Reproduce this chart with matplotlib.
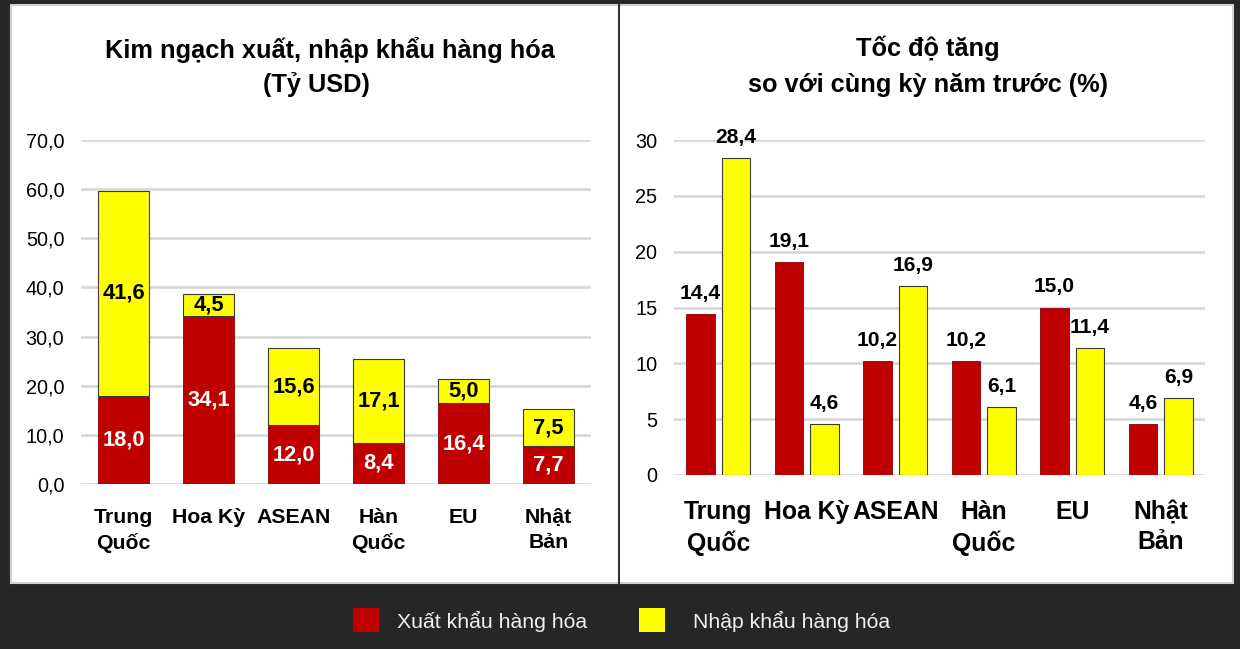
import matplotlib
matplotlib.use("Agg")
import matplotlib.pyplot as plt
from matplotlib import font_manager
from matplotlib.patches import Rectangle
import numpy as np

# ---- data ----
categories = ["Trung\nQuốc", "Hoa Kỳ", "ASEAN", "Hàn\nQuốc", "EU", "Nhật\nBản"]
export_value = [18.0, 34.1, 12.0, 8.4, 16.4, 7.7]
import_value = [41.6, 4.5, 15.6, 17.1, 5.0, 7.5]
export_growth = [14.4, 19.1, 10.2, 10.2, 15.0, 4.6]
import_growth = [28.4, 4.6, 16.9, 6.1, 11.4, 6.9]
left_ticks = [0, 10, 20, 30, 40, 50, 60, 70]
right_ticks = [0, 5, 10, 15, 20, 25, 30]
legend_labels = ["Xuất khẩu hàng hóa", "Nhập khẩu hàng hóa"]
title_left = ["Kim ngạch xuất, nhập khẩu hàng hóa", "(Tỷ USD)"]
title_right = ["Tốc độ tăng", "so với cùng kỳ năm trước (%)"]

RED = "#C00000"
YEL = "#FFFF00"
BG = "#262626"

names = {f.name for f in font_manager.fontManager.ttflist}
NARROW = "Liberation Sans Narrow" in names
FAM = ["Liberation Sans Narrow", "DejaVu Sans"] if NARROW else ["Liberation Sans", "DejaVu Sans"]
k = 1.0 if NARROW else 0.85
plt.rcParams['font.family'] = FAM

W, H = 1240, 649
fig = plt.figure(figsize=(W / 100, H / 100), dpi=100, facecolor=BG)

def fx(px):
    return px / W

def fy(py):
    return 1 - py / H

# white panel
fig.patches.append(Rectangle((fx(11), fy(583)), fx(1233 - 11), (583 - 5) / H,
                             transform=fig.transFigure, facecolor="white",
                             edgecolor="#cfcfcf", linewidth=1.5, zorder=-10))
fig.add_artist(plt.Line2D([fx(619), fx(619)], [fy(583), fy(5)], transform=fig.transFigure,
                          color="#333333", linewidth=1.5, zorder=-5))

# ---- left chart ----
axL = fig.add_axes([fx(81), fy(484), fx(591 - 81), (484 - 140) / H])
axL.set_zorder(5)
x = np.arange(len(categories))
bw = 0.6
axL.bar(x, export_value, bw, color=RED, edgecolor="#8a0000", linewidth=0.6, zorder=3)
axL.bar(x, import_value, bw, bottom=export_value, color=YEL, edgecolor="#3a3a3a",
        linewidth=0.8, zorder=3)
for i in range(len(categories)):
    axL.text(x[i], export_value[i] / 2, f"{export_value[i]:.1f}".replace(".", ","),
             ha="center", va="center", color="white", fontsize=18.5 * k, fontweight="bold", zorder=4)
    axL.text(x[i], export_value[i] + import_value[i] / 2, f"{import_value[i]:.1f}".replace(".", ","),
             ha="center", va="center", color="black", fontsize=18.5 * k, fontweight="bold", zorder=4)
axL.set_xlim(-0.5, len(categories) - 0.5)
axL.set_ylim(0, 70)
axL.set_yticks(left_ticks)
axL.set_yticklabels([f"{t:.1f}".replace(".", ",") for t in left_ticks], fontsize=16.8 * k)
axL.set_xticks(x)
axL.set_xticklabels(categories, fontsize=18 * k, fontweight="bold", linespacing=1.4)
axL.tick_params(axis="both", length=0, colors="black")
axL.tick_params(axis="x", pad=17)
axL.tick_params(axis="y", pad=12)
axL.grid(axis="y", color="#d9d9d9", linewidth=2, zorder=0)
for s in axL.spines.values():
    s.set_visible(False)
axL.set_facecolor("none")

# ---- right chart ----
axR = fig.add_axes([fx(674), fy(475), fx(1205 - 674), (475 - 140) / H])
axR.set_zorder(5)
bw2 = 0.32
off = 0.2
axR.bar(x - off, export_growth, bw2, color=RED, edgecolor="#8a0000", linewidth=0.6, zorder=3)
axR.bar(x + off, import_growth, bw2, color=YEL, edgecolor="#3a3a3a", linewidth=0.8, zorder=3)
for i in range(len(categories)):
    axR.annotate(f"{export_growth[i]:.1f}".replace(".", ","), (x[i] - off, export_growth[i]),
                 xytext=(0, 8), textcoords="offset points", ha="center", va="bottom",
                 fontsize=17.8 * k, fontweight="bold", color="black")
    axR.annotate(f"{import_growth[i]:.1f}".replace(".", ","), (x[i] + off, import_growth[i]),
                 xytext=(0, 8), textcoords="offset points", ha="center", va="bottom",
                 fontsize=17.8 * k, fontweight="bold", color="black")
axR.set_xlim(-0.5, len(categories) - 0.5)
axR.set_ylim(0, 30)
axR.set_yticks(right_ticks)
axR.set_yticklabels([str(t) for t in right_ticks], fontsize=16.8 * k)
axR.set_xticks(x)
axR.set_xticklabels(categories, fontsize=21 * k, fontweight="bold", linespacing=1.3)
axR.tick_params(axis="both", length=0, colors="black")
axR.tick_params(axis="x", pad=18)
axR.tick_params(axis="y", pad=12)
axR.grid(axis="y", color="#d9d9d9", linewidth=2, zorder=0)
for s in axR.spines.values():
    s.set_visible(False)
axR.set_facecolor("none")

# ---- titles ----
TS = 18.3 if not NARROW else 20
fig.text(fx(330), fy(50), title_left[0], ha="center", va="center", fontsize=TS,
         fontweight="bold", color="black")
fig.text(fx(316), fy(85), title_left[1], ha="center", va="center", fontsize=TS,
         fontweight="bold", color="black")
fig.text(fx(928), fy(48), title_right[0], ha="center", va="center", fontsize=TS,
         fontweight="bold", color="black")
fig.text(fx(928), fy(85), title_right[1], ha="center", va="center", fontsize=TS,
         fontweight="bold", color="black")

# ---- legend ----
LS = 15.3 if not NARROW else 17
fig.patches.append(Rectangle((fx(353), fy(632)), fx(26), 24 / H, transform=fig.transFigure,
                             facecolor=RED, edgecolor="none"))
fig.patches.append(Rectangle((fx(639), fy(632)), fx(26), 24 / H, transform=fig.transFigure,
                             facecolor=YEL, edgecolor="none"))
fig.text(fx(397), fy(621), legend_labels[0], ha="left", va="center", fontsize=LS,
         color="#f0f0f0")
fig.text(fx(693), fy(621), legend_labels[1], ha="left", va="center", fontsize=LS,
         color="#f0f0f0")

fig.savefig("out.png", dpi=100, facecolor=BG)
